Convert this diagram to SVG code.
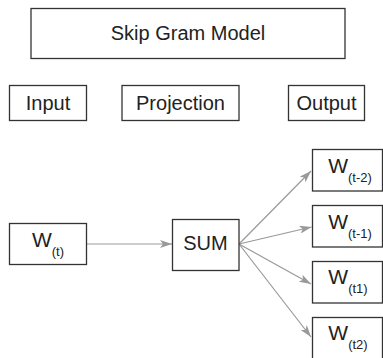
<svg xmlns="http://www.w3.org/2000/svg" width="383" height="358" viewBox="0 0 383 358">
  <style>
    .box { fill: #ffffff; stroke: #333333; stroke-width: 1.3; }
    .lbl { font-family: "Liberation Sans", Arial, sans-serif; font-size: 20px; fill: #222222; text-anchor: middle; }
    .w { font-size: 21px; }
    .sub { font-size: 13px; }
    .edge { fill: none; stroke: #999999; stroke-width: 1.2; }
  </style>
  <defs>
    <marker id="arrow" viewBox="0 0 12 8" refX="12" refY="4" markerWidth="12" markerHeight="8" markerUnits="userSpaceOnUse" orient="auto">
      <path d="M0,0 L12,4 L0,8 L3,4 z" fill="#999999"/>
    </marker>
  </defs>
  <rect width="383" height="358" fill="#ffffff"/>

  <g id="title">
    <rect class="box" x="31" y="8.5" width="314" height="50"/>
    <text class="lbl" x="188" y="40">Skip Gram Model</text>
  </g>
  <g id="input-header">
    <rect class="box" x="9.5" y="85.5" width="77" height="35"/>
    <text class="lbl" x="48" y="110">Input</text>
  </g>
  <g id="projection-header">
    <rect class="box" x="122" y="85.5" width="117" height="35"/>
    <text class="lbl" x="180.5" y="110">Projection</text>
  </g>
  <g id="output-header">
    <rect class="box" x="288.5" y="85.5" width="76" height="35"/>
    <text class="lbl" x="326.5" y="110">Output</text>
  </g>

  <g id="connectors">
    <line class="edge" x1="87" y1="244" x2="172" y2="244" marker-end="url(#arrow)"/>
    <line class="edge" x1="239" y1="244" x2="311" y2="171" marker-end="url(#arrow)"/>
    <line class="edge" x1="239" y1="244" x2="311.5" y2="227" marker-end="url(#arrow)"/>
    <line class="edge" x1="239" y1="244" x2="311" y2="284" marker-end="url(#arrow)"/>
    <line class="edge" x1="239" y1="244" x2="311" y2="337" marker-end="url(#arrow)"/>
  </g>

  <g id="w-t">
    <rect class="box" x="9.5" y="223.5" width="77" height="41"/>
    <text class="lbl w" x="48" y="246.5">W<tspan class="sub" dy="9">(t)</tspan></text>
  </g>
  <g id="sum">
    <rect class="box" x="172.5" y="219.5" width="66.5" height="51"/>
    <text class="lbl" x="205.5" y="249.5">SUM</text>
  </g>
  <g id="w-t-minus-2">
    <rect class="box" x="312.5" y="149.5" width="70" height="41.5"/>
    <text class="lbl w" x="350" y="172.5">W<tspan class="sub" dy="9">(t-2)</tspan></text>
  </g>
  <g id="w-t-minus-1">
    <rect class="box" x="312.5" y="205.5" width="70" height="41.5"/>
    <text class="lbl w" x="350" y="228.5">W<tspan class="sub" dy="9">(t-1)</tspan></text>
  </g>
  <g id="w-t1">
    <rect class="box" x="312.5" y="261.5" width="70" height="41.5"/>
    <text class="lbl w" x="348" y="284">W<tspan class="sub" dy="9">(t1)</tspan></text>
  </g>
  <g id="w-t2">
    <rect class="box" x="312.5" y="317.5" width="70" height="41.5"/>
    <text class="lbl w" x="348" y="340">W<tspan class="sub" dy="9">(t2)</tspan></text>
  </g>
</svg>
